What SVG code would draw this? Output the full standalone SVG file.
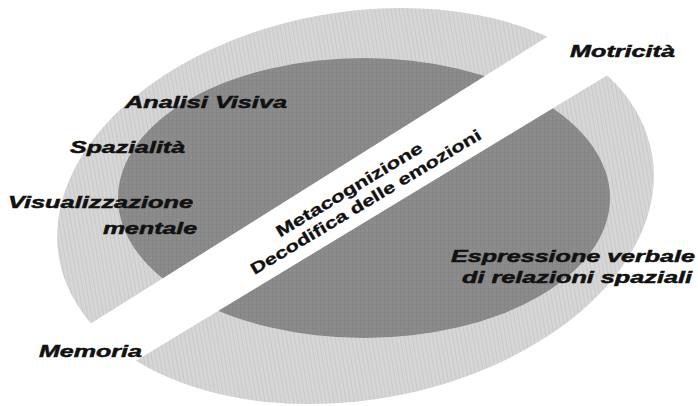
<svg xmlns="http://www.w3.org/2000/svg" width="698" height="406" viewBox="0 0 698 406">
  <style>
    .lbl { font-family: "Liberation Sans", Arial, sans-serif; font-weight: bold; font-style: italic; font-size: 17px; fill: #111111; stroke: #111111; stroke-width: 0.5px; }
    .band-lbl { font-family: "Liberation Sans", Arial, sans-serif; font-weight: bold; font-size: 16px; fill: #111111; stroke: #111111; stroke-width: 0.3px; }
  </style>
  <defs>
    <pattern id="lightStripes" width="4" height="4" patternUnits="userSpaceOnUse">
      <rect width="4" height="4" fill="#d6d6d6"/>
      <rect width="1" height="4" fill="#c9c9c9"/>
    </pattern>
    <pattern id="darkGrid" width="4" height="4" patternUnits="userSpaceOnUse">
      <rect width="4" height="4" fill="#8c8c8c"/>
      <rect width="1" height="4" fill="#858585"/>
      <rect width="4" height="1" fill="#878787"/>
    </pattern>
  </defs>
  <rect width="698" height="406" fill="#ffffff"/>
  <g id="shapes">
    <ellipse id="outer" cx="355.5" cy="206" rx="301" ry="194" transform="rotate(-10 355.5 206)" fill="url(#lightStripes)"/>
    <ellipse id="inner" cx="364" cy="198" rx="246" ry="140" fill="url(#darkGrid)"/>
    <polygon id="band" points="20,368 660,-34 720,7 20,431" fill="#ffffff"/>
  </g>
  <g id="analisi"><text class="lbl" x="125" y="108" textLength="162" lengthAdjust="spacingAndGlyphs">Analisi Visiva</text></g>
  <g id="spazialita"><text class="lbl" x="70" y="153" textLength="115" lengthAdjust="spacingAndGlyphs">Spazialità</text></g>
  <g id="visualizzazione">
    <text class="lbl" x="8" y="208" textLength="185" lengthAdjust="spacingAndGlyphs">Visualizzazione</text>
    <text class="lbl" x="103" y="234" textLength="94" lengthAdjust="spacingAndGlyphs">mentale</text>
  </g>
  <g id="memoria"><text class="lbl" x="39" y="357" textLength="103" lengthAdjust="spacingAndGlyphs">Memoria</text></g>
  <g id="motricita"><text class="lbl" x="570" y="57" textLength="105" lengthAdjust="spacingAndGlyphs">Motricità</text></g>
  <g id="espressione">
    <text class="lbl" x="451" y="262" textLength="244" lengthAdjust="spacingAndGlyphs">Espressione verbale</text>
    <text class="lbl" x="462" y="283" textLength="230" lengthAdjust="spacingAndGlyphs">di relazioni spaziali</text>
  </g>
  <g id="metacognizione" transform="translate(360 200) rotate(-31)">
    <text class="band-lbl" x="-4" y="-9" text-anchor="middle" textLength="168" lengthAdjust="spacingAndGlyphs">Metacognizione</text>
    <text class="band-lbl" x="4" y="10" text-anchor="middle" textLength="266" lengthAdjust="spacingAndGlyphs">Decodifica delle emozioni</text>
  </g>
</svg>
